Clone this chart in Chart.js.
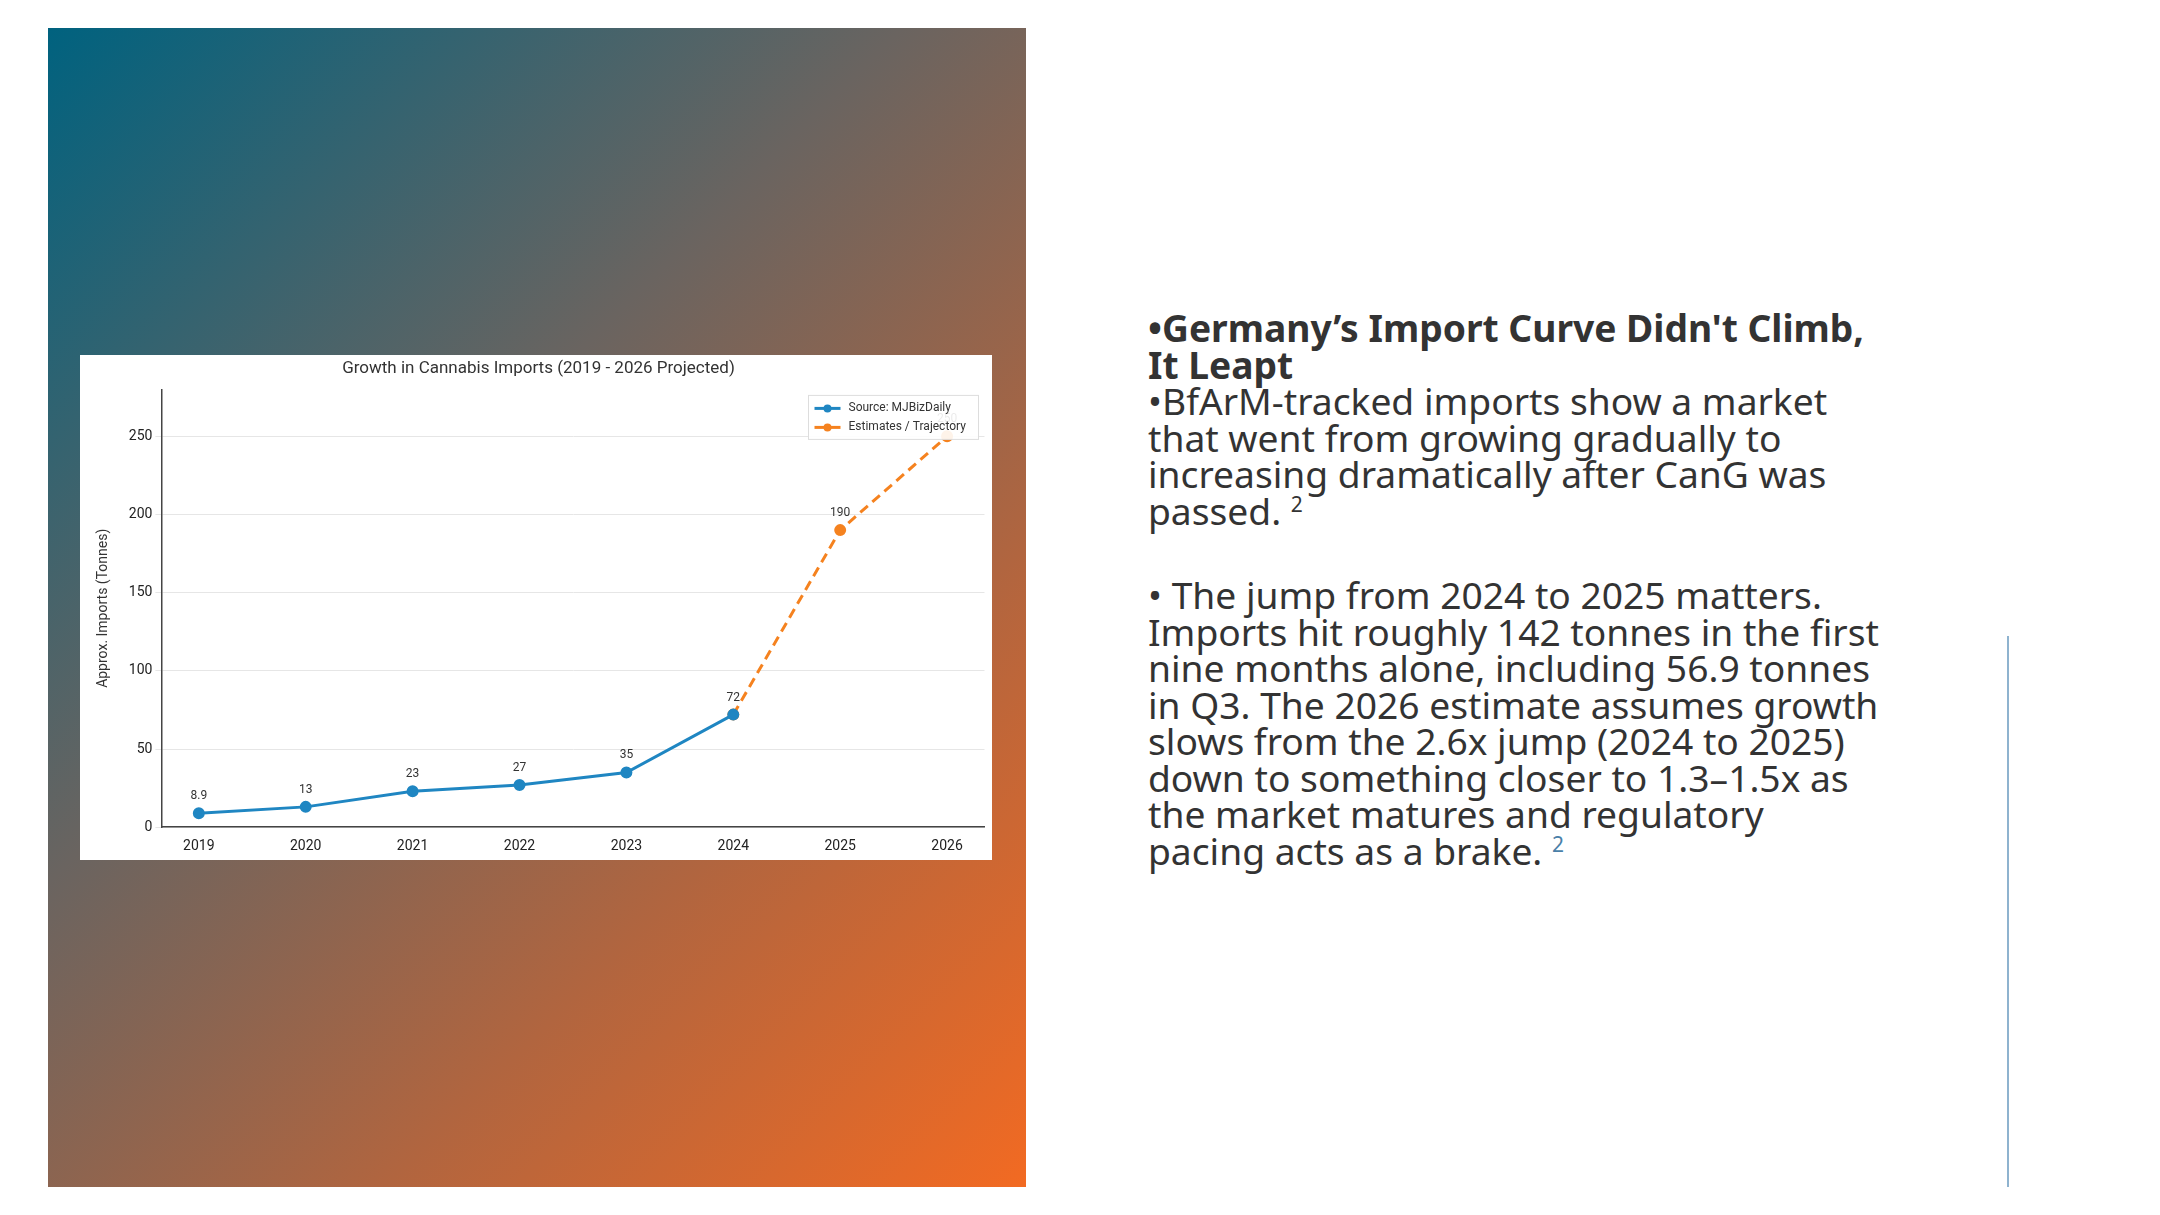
<!DOCTYPE html>
<html>
<head>
<meta charset="utf-8">
<script src="https://cdn.jsdelivr.net/npm/chart.js"></script>
<style>
  body { margin: 0; width: 2160px; height: 1215px; background: #fff; position: relative; overflow: hidden; font-family: "Noto Sans", sans-serif; }
  #panel { position: absolute; left: 48px; top: 28px; width: 978px; height: 1159px;
    background: linear-gradient(135deg, #00627f 0%, #6a6460 40%, #b1653f 70%, #f26a22 100%); }
  #box { position: absolute; left: 80px; top: 355px; width: 912px; height: 505px; background: #fff; }
  #text { position: absolute; left: 1148px; top: 310px; width: 736px; color: #333; font-size: 37.2px; line-height: 36.5px; }
  #text p { margin: 0 0 48px 0; }
  sup { font-size: 21px; vertical-align: 13px; line-height: 0; }
  #rule { position: absolute; left: 2007px; top: 636px; width: 2px; height: 551px; background: #8fb3cf; }
</style>
</head>
<body>
<div id="panel"></div>
<div id="box"><canvas id="chart"></canvas></div>
<div id="text">
  <p><b>•Germany’s Import Curve Didn't Climb, It Leapt</b><br>•BfArM-tracked imports show a market that went from growing gradually to increasing dramatically after CanG was passed. <sup>2</sup></p>
  <p>• The jump from 2024 to 2025 matters. Imports hit roughly 142 tonnes in the first nine months alone, including 56.9 tonnes in Q3. The 2026 estimate assumes growth slows from the 2.6x jump (2024 to 2025) down to something closer to 1.3–1.5x as the market matures and regulatory pacing acts as a brake. <sup style="color:#4a7fa8">2</sup></p>
</div>
<div id="rule"></div>
<script>
const years = [2019, 2020, 2021, 2022, 2023, 2024, 2025, 2026];
const sourceValues = [8.9, 13, 23, 27, 35, 72];
const estimateYears = [2024, 2025, 2026];
const estimateValues = [72, 190, 250];
const valueLabels = ["8.9", "13", "23", "27", "35", "72", "190", "250"];
const yTicks = [0, 50, 100, 150, 200, 250];
const seriesNames = ["Source: MJBizDaily", "Estimates / Trajectory"];

const blue = "#1f86c2";
const orange = "#f5821f";

const pointLabels = {
    id: "pointLabels",
    afterDatasetsDraw(chart) {
        const ctx = chart.ctx;
        const x = chart.scales.x, y = chart.scales.y;
        const all = years.map((yr, i) => i < sourceValues.length ? sourceValues[i] : estimateValues[i - 5]);
        ctx.save();
        ctx.fillStyle = "#333";
        ctx.font = "12px Roboto";
        ctx.textAlign = "center";
        all.forEach((v, i) => {
            ctx.fillText(valueLabels[i], x.getPixelForValue(years[i]), y.getPixelForValue(v) - 14);
        });
        // legend box in the top-right corner of the plot
        const a = chart.chartArea;
        const w = 170, h = 44, bx = a.right - w - 6, by = a.top + 6;
        ctx.fillStyle = "rgba(255,255,255,0.9)";
        ctx.strokeStyle = "#ddd";
        ctx.lineWidth = 1;
        ctx.fillRect(bx, by, w, h);
        ctx.strokeRect(bx, by, w, h);
        [blue, orange].forEach((c, i) => {
            const ly = by + 13 + i * 19;
            ctx.strokeStyle = c; ctx.fillStyle = c; ctx.lineWidth = 3;
            ctx.beginPath(); ctx.moveTo(bx + 6, ly); ctx.lineTo(bx + 32, ly); ctx.stroke();
            ctx.beginPath(); ctx.arc(bx + 19, ly, 4, 0, Math.PI * 2); ctx.fill();
            ctx.fillStyle = "#333"; ctx.font = "12px Roboto"; ctx.textAlign = "left"; ctx.textBaseline = "middle";
            ctx.fillText(seriesNames[i], bx + 40, ly);
        });
        ctx.restore();
    }
};

new Chart(document.getElementById("chart"), {
    type: "line",
    data: {
        datasets: [
            {
                label: seriesNames[0],
                data: sourceValues.map((v, i) => ({ x: years[i], y: v })),
                borderColor: blue, backgroundColor: blue, borderWidth: 3,
                pointRadius: 4.5, pointStyle: "circle"
            },
            {
                label: seriesNames[1],
                data: estimateValues.map((v, i) => ({ x: estimateYears[i], y: v })),
                borderColor: orange, backgroundColor: orange, borderWidth: 3, borderDash: [10, 6],
                pointRadius: 4.5, pointStyle: "circle"
            }
        ]
    },
    options: {
        responsive: true, maintainAspectRatio: false, animation: false,
        layout: { padding: { left: 11, right: 6, top: 0, bottom: 2 } },
        plugins: {
            title: { display: true, text: "Growth in Cannabis Imports (2019 - 2026 Projected)",
                color: "#333", font: { family: "Roboto", size: 17, weight: "normal" }, padding: { top: 4, bottom: 10 } },
            legend: { display: false },
            tooltip: { enabled: false }
        },
        scales: {
            x: {
                type: "linear", min: 2018.65, max: 2026.35,
                afterBuildTicks: s => { s.ticks = years.map(v => ({ value: v })); },
                grid: { display: false },
                border: { color: "#444", width: 1.5 },
                ticks: { color: "#222", font: { family: "Roboto", size: 14 }, callback: v => String(v) }
            },
            y: {
                min: 0, max: 280,
                afterBuildTicks: s => { s.ticks = yTicks.map(v => ({ value: v })); },
                title: { display: true, text: "Approx. Imports (Tonnes)", color: "#333",
                    font: { family: "Roboto", size: 14 }, padding: { bottom: 14 } },
                grid: { color: "#e6e6e6", tickLength: 6 },
                border: { color: "#444", width: 1.5 },
                ticks: { color: "#222", font: { family: "Roboto", size: 14 } }
            }
        }
    },
    plugins: [pointLabels]
});
</script>
</body>
</html>
